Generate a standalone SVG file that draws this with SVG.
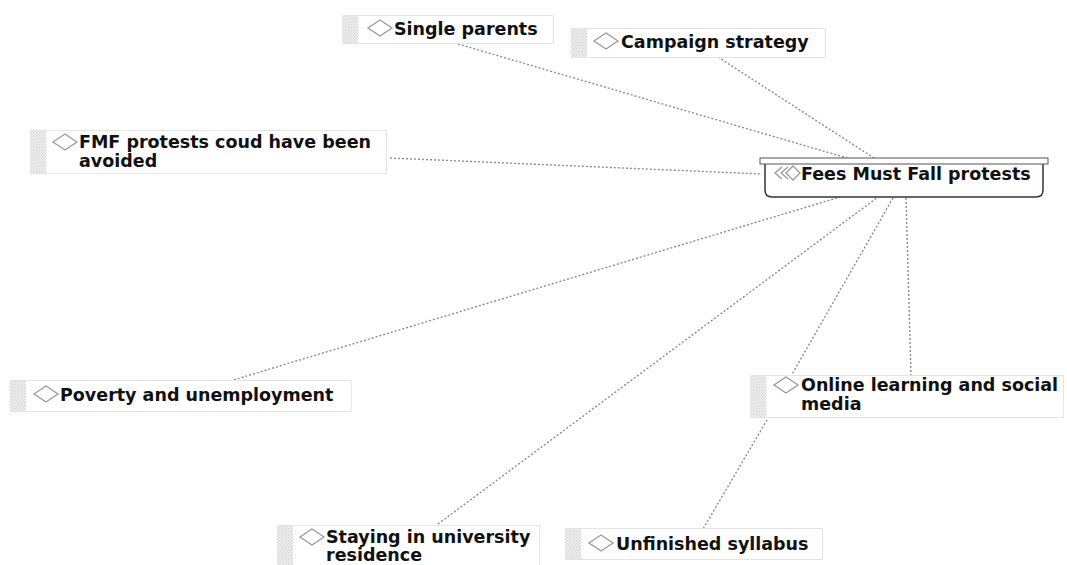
<svg xmlns="http://www.w3.org/2000/svg" width="1067" height="565" viewBox="0 0 1067 565">
  <defs>
    <pattern id="grip" width="3" height="3" patternUnits="userSpaceOnUse">
      <rect width="3" height="3" fill="#f2f2f2"/>
      <rect width="1.5" height="1.5" fill="#d6d6d6"/>
      <rect x="1.5" y="1.5" width="1.5" height="1.5" fill="#dedede"/>
    </pattern>
    <g id="diamond">
      <path d="M0 0 L12 -8 L24 0 L12 8 Z" fill="#fff" stroke="#9a9a9a" stroke-width="1.3"/>
    </g>
  </defs>
  <style>
    .box { fill: #fff; stroke: #e4e4e4; stroke-width: 1; }
    .grip { fill: url(#grip); }
    .lbl { font-family: "DejaVu Sans", Verdana, sans-serif; font-weight: bold; font-size: 17.5px; fill: #111; }
    .link { fill: none; stroke: #8c8c8c; stroke-width: 1.4; stroke-dasharray: 2 2; }
  </style>
  <rect width="1067" height="565" fill="#fff"/>

  <!-- connectors -->
  <g id="connectors">
    <line class="link" x1="458" y1="44" x2="847" y2="158"/>
    <line class="link" x1="718" y1="57" x2="874" y2="158"/>
    <line class="link" x1="390" y1="158" x2="762" y2="174"/>
    <line class="link" x1="230" y1="381" x2="840" y2="197"/>
    <line class="link" x1="438" y1="524" x2="878" y2="197"/>
    <line class="link" x1="893" y1="198" x2="791" y2="376"/>
    <line class="link" x1="906" y1="198" x2="911" y2="375"/>
    <line class="link" x1="767" y1="420" x2="703" y2="529"/>
  </g>

  <!-- central node -->
  <g id="fees-must-fall">
    <path d="M765 164 L765 190 Q765 197 772 197 L1036 197 Q1043 197 1043 190 L1043 164" fill="#fff" stroke="#333" stroke-width="1.5"/>
    <rect x="760" y="158" width="288" height="6" fill="#fff" stroke="#555" stroke-width="1"/>
    <path d="M782 167 L775 173 L782 179 M788 167 L781 173 L788 179" fill="none" stroke="#9a9a9a" stroke-width="1.3"/>
    <path d="M786 173 L793 166 L800 173 L793 180 Z" fill="#fff" stroke="#9a9a9a" stroke-width="1.3"/>
    <text class="lbl" x="801" y="180">Fees Must Fall protests</text>
  </g>

  <g id="single-parents">
    <rect class="box" x="342.5" y="15.5" width="211" height="28"/>
    <rect class="grip" x="343" y="16" width="15" height="27"/>
    <use href="#diamond" x="368" y="28"/>
    <text class="lbl" x="394" y="35">Single parents</text>
  </g>

  <g id="campaign-strategy">
    <rect class="box" x="571.5" y="28.5" width="254" height="29"/>
    <rect class="grip" x="572" y="29" width="15" height="28"/>
    <use href="#diamond" x="594" y="41"/>
    <text class="lbl" x="621" y="48">Campaign strategy</text>
  </g>

  <g id="fmf-avoidable">
    <rect class="box" x="30.5" y="130.5" width="356" height="43"/>
    <rect class="grip" x="31" y="131" width="15" height="42"/>
    <use href="#diamond" x="53" y="142"/>
    <text class="lbl" x="79" y="148">FMF protests coud have been</text>
    <text class="lbl" x="79" y="167">avoided</text>
  </g>

  <g id="poverty">
    <rect class="box" x="10.5" y="380.5" width="341" height="31"/>
    <rect class="grip" x="11" y="381" width="15" height="30"/>
    <use href="#diamond" x="34" y="394"/>
    <text class="lbl" x="60" y="401">Poverty and unemployment</text>
  </g>

  <g id="online-learning">
    <rect class="box" x="750.5" y="375.5" width="313" height="42"/>
    <rect class="grip" x="751" y="376" width="15" height="41"/>
    <use href="#diamond" x="774" y="385"/>
    <text class="lbl" x="801" y="391">Online learning and social</text>
    <text class="lbl" x="801" y="410">media</text>
  </g>

  <g id="university-residence">
    <rect class="box" x="277.5" y="525.5" width="262" height="45"/>
    <rect class="grip" x="278" y="526" width="15" height="44"/>
    <use href="#diamond" x="300" y="537"/>
    <text class="lbl" x="326" y="543">Staying in university</text>
    <text class="lbl" x="326" y="561">residence</text>
  </g>

  <g id="unfinished-syllabus">
    <rect class="box" x="565.5" y="528.5" width="257" height="31"/>
    <rect class="grip" x="566" y="529" width="15" height="30"/>
    <use href="#diamond" x="589" y="543"/>
    <text class="lbl" x="616" y="550">Unfinished syllabus</text>
  </g>
</svg>
